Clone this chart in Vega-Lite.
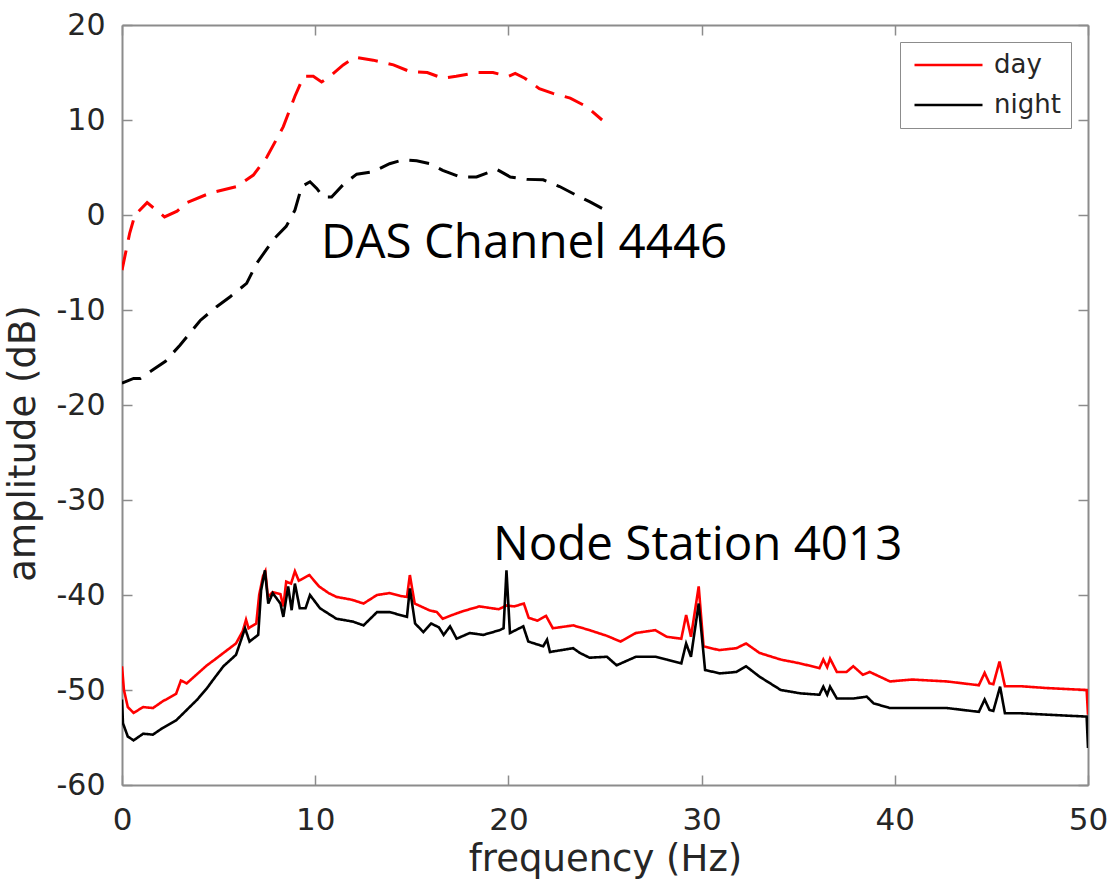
{
  "$schema": "https://vega.github.io/schema/vega-lite/v6.json",
  "autosize": "none",
  "width": 966,
  "height": 760,
  "padding": {"left": 122, "top": 25, "right": 24, "bottom": 105},
  "background": "white",
  "config": {
    "view": {"stroke": null},
    "axis": {
      "domainColor": "#8c8c8c", "domainWidth": 2,
      "tickColor": "#8c8c8c", "tickWidth": 1.5, "tickSize": -10,
      "labelColor": "#262626", "titleColor": "#262626",
      "labelFont": "DejaVu Sans", "titleFont": "DejaVu Sans",
      "titleFontWeight": "normal", "grid": false, "labelFlush": false
    },
    "legend": {
      "orient": "none", "legendX": 778, "legendY": 17,
      "strokeColor": "#8c8c8c", "fillColor": "white", "padding": 10,
      "labelFont": "DejaVu Sans", "labelFontSize": 26, "labelColor": "#262626",
      "symbolType": "M-1,0H7", "symbolSize": 289, "symbolStrokeWidth": 2.5,
      "labelOffset": 58, "rowPadding": 14
    }
  },
  "datasets": {
    "labels": [
      {"f": 10.3, "db": -4.5, "label": "DAS Channel 4446"},
      {"f": 19.2, "db": -36.3, "label": "Node Station 4013"}
    ]
  },
  "data": {"values": [
    {"s":"DAS","p":"day","f":0,"db":-5.8},{"s":"DAS","p":"day","f":0.4,"db":-1.9},{"s":"DAS","p":"day","f":0.67,"db":0},{"s":"DAS","p":"day","f":1.3,"db":1.3},{"s":"DAS","p":"day","f":2.2,"db":-0.2},{"s":"DAS","p":"day","f":2.85,"db":0.4},{"s":"DAS","p":"day","f":3.35,"db":1.3},{"s":"DAS","p":"day","f":4.55,"db":2.3},{"s":"DAS","p":"day","f":5.95,"db":3.0},{"s":"DAS","p":"day","f":6.8,"db":4.2},{"s":"DAS","p":"day","f":7.5,"db":6.1},{"s":"DAS","p":"day","f":8.35,"db":9.3},{"s":"DAS","p":"day","f":8.95,"db":12.5},{"s":"DAS","p":"day","f":9.4,"db":14.6},{"s":"DAS","p":"day","f":9.9,"db":14.6},{"s":"DAS","p":"day","f":10.33,"db":14.0},{"s":"DAS","p":"day","f":10.77,"db":14.6},{"s":"DAS","p":"day","f":11.45,"db":15.8},{"s":"DAS","p":"day","f":12.05,"db":16.6},{"s":"DAS","p":"day","f":13.0,"db":16.3},{"s":"DAS","p":"day","f":14.05,"db":15.8},{"s":"DAS","p":"day","f":14.9,"db":15.1},{"s":"DAS","p":"day","f":15.8,"db":15.0},{"s":"DAS","p":"day","f":16.6,"db":14.4},{"s":"DAS","p":"day","f":17.3,"db":14.6},{"s":"DAS","p":"day","f":18.35,"db":15.0},{"s":"DAS","p":"day","f":19.2,"db":15.0},{"s":"DAS","p":"day","f":20.0,"db":14.6},{"s":"DAS","p":"day","f":20.35,"db":14.9},{"s":"DAS","p":"day","f":20.85,"db":14.4},{"s":"DAS","p":"day","f":21.6,"db":13.3},{"s":"DAS","p":"day","f":22.3,"db":12.8},{"s":"DAS","p":"day","f":23.2,"db":12.3},{"s":"DAS","p":"day","f":24.05,"db":11.4},{"s":"DAS","p":"day","f":24.85,"db":10.0},
    {"s":"DAS","p":"night","f":0,"db":-17.7},{"s":"DAS","p":"night","f":0.6,"db":-17.2},{"s":"DAS","p":"night","f":0.95,"db":-17.2},{"s":"DAS","p":"night","f":1.6,"db":-16.3},{"s":"DAS","p":"night","f":2.25,"db":-15.4},{"s":"DAS","p":"night","f":3.0,"db":-13.7},{"s":"DAS","p":"night","f":4.05,"db":-11.1},{"s":"DAS","p":"night","f":4.9,"db":-9.65},{"s":"DAS","p":"night","f":5.6,"db":-8.6},{"s":"DAS","p":"night","f":6.45,"db":-7.2},{"s":"DAS","p":"night","f":6.97,"db":-5.1},{"s":"DAS","p":"night","f":7.83,"db":-2.6},{"s":"DAS","p":"night","f":8.5,"db":-1.2},{"s":"DAS","p":"night","f":8.95,"db":0.5},{"s":"DAS","p":"night","f":9.3,"db":3.0},{"s":"DAS","p":"night","f":9.73,"db":3.5},{"s":"DAS","p":"night","f":10.08,"db":2.8},{"s":"DAS","p":"night","f":10.42,"db":1.9},{"s":"DAS","p":"night","f":10.85,"db":1.9},{"s":"DAS","p":"night","f":11.45,"db":3.2},{"s":"DAS","p":"night","f":12.15,"db":4.3},{"s":"DAS","p":"night","f":13.0,"db":4.55},{"s":"DAS","p":"night","f":13.85,"db":5.4},{"s":"DAS","p":"night","f":14.55,"db":5.8},{"s":"DAS","p":"night","f":15.25,"db":5.7},{"s":"DAS","p":"night","f":15.95,"db":5.4},{"s":"DAS","p":"night","f":16.6,"db":4.7},{"s":"DAS","p":"night","f":17.5,"db":4.0},{"s":"DAS","p":"night","f":18.35,"db":4.0},{"s":"DAS","p":"night","f":19.4,"db":4.8},{"s":"DAS","p":"night","f":20.1,"db":4.0},{"s":"DAS","p":"night","f":20.95,"db":3.75},{"s":"DAS","p":"night","f":21.8,"db":3.7},{"s":"DAS","p":"night","f":22.65,"db":3.0},{"s":"DAS","p":"night","f":23.5,"db":2.1},{"s":"DAS","p":"night","f":24.2,"db":1.4},{"s":"DAS","p":"night","f":24.85,"db":0.7},
    {"s":"Node","p":"day","f":0,"db":-47.5},{"s":"Node","p":"day","f":0.1,"db":-50.0},{"s":"Node","p":"day","f":0.3,"db":-51.8},{"s":"Node","p":"day","f":0.6,"db":-52.4},{"s":"Node","p":"day","f":1.1,"db":-51.8},{"s":"Node","p":"day","f":1.6,"db":-51.9},{"s":"Node","p":"day","f":2.1,"db":-51.2},{"s":"Node","p":"day","f":2.8,"db":-50.4},{"s":"Node","p":"day","f":3.05,"db":-49.0},{"s":"Node","p":"day","f":3.35,"db":-49.3},{"s":"Node","p":"day","f":3.9,"db":-48.3},{"s":"Node","p":"day","f":4.4,"db":-47.4},{"s":"Node","p":"day","f":4.8,"db":-46.8},{"s":"Node","p":"day","f":5.25,"db":-46.1},{"s":"Node","p":"day","f":5.9,"db":-45.1},{"s":"Node","p":"day","f":6.25,"db":-43.8},{"s":"Node","p":"day","f":6.42,"db":-42.6},{"s":"Node","p":"day","f":6.55,"db":-43.5},{"s":"Node","p":"day","f":6.95,"db":-43.0},{"s":"Node","p":"day","f":7.1,"db":-40.0},{"s":"Node","p":"day","f":7.3,"db":-38.0},{"s":"Node","p":"day","f":7.42,"db":-37.5},{"s":"Node","p":"day","f":7.55,"db":-40.2},{"s":"Node","p":"day","f":7.8,"db":-39.7},{"s":"Node","p":"day","f":8.2,"db":-39.9},{"s":"Node","p":"day","f":8.35,"db":-41.2},{"s":"Node","p":"day","f":8.5,"db":-38.6},{"s":"Node","p":"day","f":8.75,"db":-38.8},{"s":"Node","p":"day","f":8.95,"db":-37.5},{"s":"Node","p":"day","f":9.15,"db":-38.5},{"s":"Node","p":"day","f":9.7,"db":-37.9},{"s":"Node","p":"day","f":10.2,"db":-39.1},{"s":"Node","p":"day","f":10.7,"db":-39.8},{"s":"Node","p":"day","f":11.1,"db":-40.2},{"s":"Node","p":"day","f":11.9,"db":-40.5},{"s":"Node","p":"day","f":12.5,"db":-40.9},{"s":"Node","p":"day","f":13.2,"db":-40.0},{"s":"Node","p":"day","f":13.85,"db":-39.8},{"s":"Node","p":"day","f":14.4,"db":-40.1},{"s":"Node","p":"day","f":14.75,"db":-40.2},{"s":"Node","p":"day","f":14.9,"db":-37.9},{"s":"Node","p":"day","f":15.15,"db":-40.9},{"s":"Node","p":"day","f":15.9,"db":-41.6},{"s":"Node","p":"day","f":16.3,"db":-41.8},{"s":"Node","p":"day","f":16.6,"db":-42.5},{"s":"Node","p":"day","f":17.1,"db":-42.1},{"s":"Node","p":"day","f":17.65,"db":-41.7},{"s":"Node","p":"day","f":18.5,"db":-41.2},{"s":"Node","p":"day","f":19.5,"db":-41.5},{"s":"Node","p":"day","f":19.9,"db":-41.1},{"s":"Node","p":"day","f":20.3,"db":-41.2},{"s":"Node","p":"day","f":20.8,"db":-40.9},{"s":"Node","p":"day","f":21.05,"db":-42.4},{"s":"Node","p":"day","f":21.5,"db":-42.7},{"s":"Node","p":"day","f":21.95,"db":-42.2},{"s":"Node","p":"day","f":22.3,"db":-43.5},{"s":"Node","p":"day","f":23.35,"db":-43.2},{"s":"Node","p":"day","f":23.7,"db":-43.4},{"s":"Node","p":"day","f":24.2,"db":-43.7},{"s":"Node","p":"day","f":25.1,"db":-44.3},{"s":"Node","p":"day","f":25.8,"db":-44.9},{"s":"Node","p":"day","f":26.6,"db":-44.0},{"s":"Node","p":"day","f":27.6,"db":-43.7},{"s":"Node","p":"day","f":28.2,"db":-44.4},{"s":"Node","p":"day","f":28.95,"db":-44.6},{"s":"Node","p":"day","f":29.2,"db":-42.1},{"s":"Node","p":"day","f":29.45,"db":-44.4},{"s":"Node","p":"day","f":29.85,"db":-39.1},{"s":"Node","p":"day","f":30.1,"db":-45.4},{"s":"Node","p":"day","f":30.9,"db":-45.8},{"s":"Node","p":"day","f":31.8,"db":-45.6},{"s":"Node","p":"day","f":32.3,"db":-45.1},{"s":"Node","p":"day","f":33.0,"db":-46.1},{"s":"Node","p":"day","f":34.1,"db":-46.8},{"s":"Node","p":"day","f":35.1,"db":-47.2},{"s":"Node","p":"day","f":36.1,"db":-47.7},{"s":"Node","p":"day","f":36.3,"db":-46.8},{"s":"Node","p":"day","f":36.5,"db":-47.6},{"s":"Node","p":"day","f":36.65,"db":-46.7},{"s":"Node","p":"day","f":37.0,"db":-48.1},{"s":"Node","p":"day","f":37.5,"db":-48.1},{"s":"Node","p":"day","f":37.85,"db":-47.5},{"s":"Node","p":"day","f":38.35,"db":-48.4},{"s":"Node","p":"day","f":38.7,"db":-48.1},{"s":"Node","p":"day","f":39.75,"db":-49.1},{"s":"Node","p":"day","f":40.9,"db":-48.9},{"s":"Node","p":"day","f":42.7,"db":-49.1},{"s":"Node","p":"day","f":44.35,"db":-49.5},{"s":"Node","p":"day","f":44.65,"db":-48.2},{"s":"Node","p":"day","f":44.9,"db":-49.3},{"s":"Node","p":"day","f":45.1,"db":-49.4},{"s":"Node","p":"day","f":45.42,"db":-47.0},{"s":"Node","p":"day","f":45.7,"db":-49.6},{"s":"Node","p":"day","f":46.5,"db":-49.6},{"s":"Node","p":"day","f":47.9,"db":-49.8},{"s":"Node","p":"day","f":49.93,"db":-50.0},{"s":"Node","p":"day","f":50,"db":-52.6},
    {"s":"Node","p":"night","f":0,"db":-51.0},{"s":"Node","p":"night","f":0.05,"db":-53.5},{"s":"Node","p":"night","f":0.3,"db":-54.9},{"s":"Node","p":"night","f":0.6,"db":-55.3},{"s":"Node","p":"night","f":1.1,"db":-54.6},{"s":"Node","p":"night","f":1.6,"db":-54.7},{"s":"Node","p":"night","f":2.1,"db":-54.0},{"s":"Node","p":"night","f":2.8,"db":-53.2},{"s":"Node","p":"night","f":3.1,"db":-52.6},{"s":"Node","p":"night","f":3.35,"db":-52.1},{"s":"Node","p":"night","f":3.9,"db":-51.0},{"s":"Node","p":"night","f":4.4,"db":-49.8},{"s":"Node","p":"night","f":4.8,"db":-48.7},{"s":"Node","p":"night","f":5.25,"db":-47.5},{"s":"Node","p":"night","f":5.9,"db":-46.3},{"s":"Node","p":"night","f":6.37,"db":-43.5},{"s":"Node","p":"night","f":6.6,"db":-44.9},{"s":"Node","p":"night","f":7.05,"db":-44.2},{"s":"Node","p":"night","f":7.2,"db":-39.5},{"s":"Node","p":"night","f":7.4,"db":-37.4},{"s":"Node","p":"night","f":7.57,"db":-40.9},{"s":"Node","p":"night","f":7.8,"db":-39.8},{"s":"Node","p":"night","f":8.2,"db":-40.9},{"s":"Node","p":"night","f":8.35,"db":-42.3},{"s":"Node","p":"night","f":8.6,"db":-39.1},{"s":"Node","p":"night","f":8.78,"db":-41.6},{"s":"Node","p":"night","f":8.95,"db":-38.8},{"s":"Node","p":"night","f":9.2,"db":-41.4},{"s":"Node","p":"night","f":9.5,"db":-41.4},{"s":"Node","p":"night","f":9.73,"db":-40.0},{"s":"Node","p":"night","f":10.25,"db":-41.4},{"s":"Node","p":"night","f":11.1,"db":-42.5},{"s":"Node","p":"night","f":11.95,"db":-42.8},{"s":"Node","p":"night","f":12.5,"db":-43.2},{"s":"Node","p":"night","f":13.2,"db":-41.8},{"s":"Node","p":"night","f":13.85,"db":-41.8},{"s":"Node","p":"night","f":14.75,"db":-42.3},{"s":"Node","p":"night","f":14.9,"db":-39.3},{"s":"Node","p":"night","f":15.17,"db":-43.0},{"s":"Node","p":"night","f":15.6,"db":-43.9},{"s":"Node","p":"night","f":16.0,"db":-43.0},{"s":"Node","p":"night","f":16.4,"db":-43.4},{"s":"Node","p":"night","f":16.65,"db":-44.2},{"s":"Node","p":"night","f":16.98,"db":-43.3},{"s":"Node","p":"night","f":17.32,"db":-44.6},{"s":"Node","p":"night","f":18.0,"db":-44.0},{"s":"Node","p":"night","f":18.7,"db":-44.2},{"s":"Node","p":"night","f":19.55,"db":-43.7},{"s":"Node","p":"night","f":19.75,"db":-43.5},{"s":"Node","p":"night","f":19.9,"db":-37.4},{"s":"Node","p":"night","f":20.08,"db":-44.0},{"s":"Node","p":"night","f":20.77,"db":-43.3},{"s":"Node","p":"night","f":21.03,"db":-44.9},{"s":"Node","p":"night","f":21.8,"db":-45.4},{"s":"Node","p":"night","f":22.0,"db":-44.7},{"s":"Node","p":"night","f":22.15,"db":-46.0},{"s":"Node","p":"night","f":23.35,"db":-45.6},{"s":"Node","p":"night","f":23.7,"db":-46.1},{"s":"Node","p":"night","f":24.2,"db":-46.6},{"s":"Node","p":"night","f":25.1,"db":-46.5},{"s":"Node","p":"night","f":25.6,"db":-47.4},{"s":"Node","p":"night","f":26.6,"db":-46.5},{"s":"Node","p":"night","f":27.6,"db":-46.5},{"s":"Node","p":"night","f":28.2,"db":-46.8},{"s":"Node","p":"night","f":28.95,"db":-47.2},{"s":"Node","p":"night","f":29.2,"db":-45.1},{"s":"Node","p":"night","f":29.45,"db":-46.5},{"s":"Node","p":"night","f":29.85,"db":-40.9},{"s":"Node","p":"night","f":30.18,"db":-47.9},{"s":"Node","p":"night","f":30.95,"db":-48.25},{"s":"Node","p":"night","f":31.8,"db":-48.1},{"s":"Node","p":"night","f":32.3,"db":-47.5},{"s":"Node","p":"night","f":33.0,"db":-48.6},{"s":"Node","p":"night","f":34.1,"db":-50.0},{"s":"Node","p":"night","f":35.1,"db":-50.35},{"s":"Node","p":"night","f":36.1,"db":-50.5},{"s":"Node","p":"night","f":36.3,"db":-49.65},{"s":"Node","p":"night","f":36.5,"db":-50.5},{"s":"Node","p":"night","f":36.65,"db":-49.65},{"s":"Node","p":"night","f":37.0,"db":-50.9},{"s":"Node","p":"night","f":37.85,"db":-50.9},{"s":"Node","p":"night","f":38.55,"db":-50.7},{"s":"Node","p":"night","f":38.9,"db":-51.4},{"s":"Node","p":"night","f":39.75,"db":-51.9},{"s":"Node","p":"night","f":40.95,"db":-51.9},{"s":"Node","p":"night","f":42.7,"db":-51.9},{"s":"Node","p":"night","f":44.35,"db":-52.3},{"s":"Node","p":"night","f":44.65,"db":-51.0},{"s":"Node","p":"night","f":44.9,"db":-52.1},{"s":"Node","p":"night","f":45.1,"db":-52.2},{"s":"Node","p":"night","f":45.45,"db":-49.65},{"s":"Node","p":"night","f":45.7,"db":-52.45},{"s":"Node","p":"night","f":46.5,"db":-52.45},{"s":"Node","p":"night","f":47.9,"db":-52.6},{"s":"Node","p":"night","f":49.93,"db":-52.8},{"s":"Node","p":"night","f":50,"db":-56.1}
  ]},
  "layer": [
    {
      "mark": {"type": "line", "clip": true},
      "encoding": {
        "x": {"field": "f", "type": "quantitative",
          "scale": {"domain": [0, 50], "nice": false, "zero": false},
          "axis": {"orient": "bottom", "values": [0,10,20,30,40,50], "labelFontSize": 31, "labelPadding": 30,
            "labelExpr": "datum.value + ''",
            "title": "frequency (Hz)", "titleFontSize": 37, "titleY": 56, "titleBaseline": "top"}},
        "y": {"field": "db", "type": "quantitative",
          "scale": {"domain": [-60, 20], "nice": false, "zero": false},
          "axis": {"orient": "left", "values": [-60,-50,-40,-30,-20,-10,0,10,20], "labelFontSize": 30, "labelPadding": 27,
            "labelExpr": "datum.value + ''",
            "title": "amplitude (dB)", "titleFontSize": 37, "titleX": -80, "titleY": 418, "titleAngle": -90, "titleBaseline": "bottom", "titleAlign": "center"}},
        "color": {"field": "p", "type": "nominal",
          "scale": {"domain": ["day", "night"], "range": ["#ff0000", "#000000"]},
          "legend": {"title": null}},
        "strokeDash": {"field": "s", "type": "nominal",
          "scale": {"domain": ["DAS", "Node"], "range": [[20, 11], [1, 0]]}, "legend": null},
        "strokeWidth": {"field": "s", "type": "nominal",
          "scale": {"domain": ["DAS", "Node"], "range": [3, 2.6]}, "legend": null}
      }
    },
    {
      "data": {"name": "labels"},
      "mark": {"type": "text", "font": "Open Sans", "fontSize": 47.5, "align": "left", "baseline": "alphabetic", "color": "#000000"},
      "encoding": {
        "x": {"field": "f", "type": "quantitative",
          "axis": {"orient": "top", "values": [0,10,20,30,40,50], "labels": false, "title": null}},
        "y": {"field": "db", "type": "quantitative",
          "axis": {"orient": "right", "values": [-60,-50,-40,-30,-20,-10,0,10,20], "labels": false, "title": null}},
        "text": {"field": "label", "type": "nominal"}
      }
    }
  ],
  "resolve": {"axis": {"x": "independent", "y": "independent"}}
}
